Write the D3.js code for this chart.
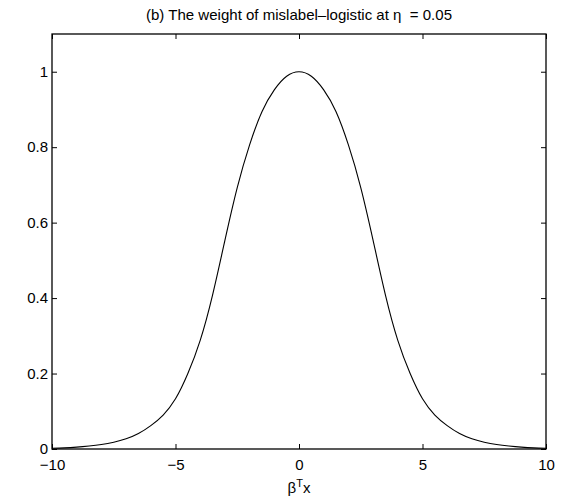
<!DOCTYPE html>
<html>
<head>
<meta charset="utf-8">
<script src="https://cdn.jsdelivr.net/npm/d3@7"></script>
<style>
  html, body { margin: 0; padding: 0; background: #fff; }
  svg { display: block; }
  text { font-family: "Liberation Sans", Arial, Helvetica, sans-serif; fill: #000; }
</style>
</head>
<body>
<svg id="chart" width="564" height="497"></svg>
<script>
// ---- data ----
const xValues = [-10, -9.5, -9, -8.5, -8, -7.5, -7, -6.5, -6, -5.5, -5, -4.5, -4, -3.5, -3, -2.5, -2, -1.5, -1, -0.5,
                 0, 0.5, 1, 1.5, 2, 2.5, 3, 3.5, 4, 4.5, 5, 5.5, 6, 6.5, 7, 7.5, 8, 8.5, 9, 9.5, 10];
const weightValues = [0.002, 0.003, 0.005, 0.008, 0.012, 0.018, 0.027, 0.041, 0.062, 0.09, 0.133, 0.2, 0.288, 0.408, 0.553, 0.693, 0.806, 0.894, 0.952, 0.988,
                      1.0, 0.988, 0.952, 0.894, 0.806, 0.693, 0.553, 0.408, 0.288, 0.2, 0.133, 0.09, 0.062, 0.041, 0.027, 0.018, 0.012, 0.008, 0.005, 0.003, 0.002];
const xTicks = [-10, -5, 0, 5, 10];
const yTicks = [0, 0.2, 0.4, 0.6, 0.8, 1];
const xDomain = [-10, 10];
const yDomain = [0, 1.1];
const titleText = "(b) The weight of mislabel\u2013logistic at \u03b7\u00a0 = 0.05";

// ---- layout ----
const L = 52, R = 546, T = 34, B = 449;
const svg = d3.select("#chart");

const x = d3.scaleLinear().domain(xDomain).range([L, R]);
const y = d3.scaleLinear().domain(yDomain).range([B, T]);

const fontSize = 15;
const tickLen = 5;

// frame
svg.append("rect")
  .attr("x", L).attr("y", T).attr("width", R - L).attr("height", B - T)
  .attr("fill", "none").attr("stroke", "#000").attr("stroke-width", 1.3);

function styleAxis(g, showLabels) {
  g.select(".domain").remove();
  g.selectAll(".tick line").attr("stroke", "#000").attr("stroke-width", 1);
  g.selectAll(".tick text").attr("font-size", fontSize).attr("font-family", null);
  if (!showLabels) g.selectAll(".tick text").remove();
}

const fmt = d => d3.format("")(d);

svg.append("g").attr("transform", `translate(0,${B})`)
  .call(d3.axisBottom(x).tickValues(xTicks).tickSize(-tickLen).tickPadding(10).tickFormat(fmt))
  .call(g => styleAxis(g, true));
svg.append("g").attr("transform", `translate(0,${T})`)
  .call(d3.axisTop(x).tickValues(xTicks).tickSize(-tickLen))
  .call(g => styleAxis(g, false));
svg.append("g").attr("transform", `translate(${L},0)`)
  .call(d3.axisLeft(y).tickValues(yTicks).tickSize(-tickLen).tickPadding(4).tickFormat(fmt))
  .call(g => styleAxis(g, true));
svg.append("g").attr("transform", `translate(${R},0)`)
  .call(d3.axisRight(y).tickValues(yTicks).tickSize(-tickLen))
  .call(g => styleAxis(g, false));

// curve
const pts = xValues.map((v, i) => [v, weightValues[i]]);
const line = d3.line().x(d => x(d[0])).y(d => y(d[1])).curve(d3.curveNatural);
svg.append("path")
  .datum(pts)
  .attr("fill", "none")
  .attr("stroke", "#000")
  .attr("stroke-width", 1.1)
  .attr("d", line);

// title
svg.append("text")
  .attr("x", (L + R) / 2).attr("y", 19.5)
  .attr("text-anchor", "middle")
  .attr("font-size", fontSize)
  .attr("textLength", 306)
  .attr("lengthAdjust", "spacingAndGlyphs")
  .text(titleText);

// x label  β^T x
const xl = svg.append("text")
  .attr("x", (L + R) / 2).attr("y", 493)
  .attr("text-anchor", "middle")
  .attr("font-size", fontSize);
xl.append("tspan").text("\u03b2");
xl.append("tspan").attr("font-size", 11).attr("dy", -6).text("T");
xl.append("tspan").attr("dy", 6).text("x");
</script>
</body>
</html>
